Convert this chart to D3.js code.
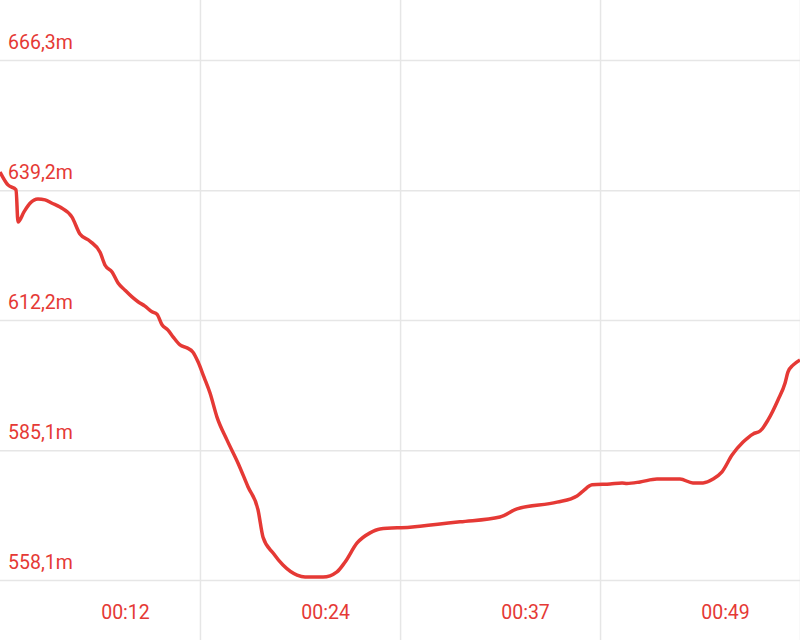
<!DOCTYPE html>
<html>
<head>
<meta charset="utf-8">
<script src="https://cdn.jsdelivr.net/npm/d3@7"></script>
<style>
  html, body { margin: 0; padding: 0; background: #fff; }
  svg { display: block; }
</style>
</head>
<body>
<div id="chart"></div>
<script>
// elapsed time (minutes) and elevation (m)
var minutes = [0.00, 0.49, 0.99, 1.11, 1.48, 1.85, 2.34, 2.78, 3.21, 3.70, 4.44, 4.93, 5.55, 6.17,
  6.48, 6.91, 7.28, 7.71, 8.14, 8.51, 8.94, 9.37, 9.68, 9.99, 10.36, 10.67, 11.10, 11.53, 11.90,
  12.21, 12.58, 12.95, 13.38, 14.00, 14.68, 15.29, 15.91, 16.22, 16.84, 17.45, 18.32, 18.81, 19.92,
  20.78, 21.27, 22.02, 22.82, 23.43, 25.28, 25.90, 28.37, 30.83, 31.88, 34.35, 35.58, 35.95, 36.51,
  37.62, 38.36, 38.66, 39.47, 40.51, 41.93, 42.73, 43.35, 43.97, 44.52, 45.14, 45.82, 46.44, 46.87,
  47.36, 47.98, 48.41, 48.59, 48.90, 49.33];
var elevation = [643.0, 640.3, 639.3, 632.6, 634.7, 636.5, 637.4, 637.2, 636.5, 635.7, 633.6, 630.1, 628.6, 626.3,
  623.6, 622.2, 619.9, 618.4, 617.0, 616.0, 615.1, 613.9, 613.4, 611.2, 610.1, 608.7, 607.0, 606.4, 605.5,
  603.5, 600.3, 597.0, 592.0, 587.2, 582.4, 577.5, 572.7, 567.0, 563.7, 561.2, 559.1, 558.7, 558.7,
  559.8, 561.8, 565.8, 567.9, 568.7, 569.1, 569.3, 570.2, 571.2, 572.9, 574.3, 575.6, 576.6, 577.9,
  578.1, 578.3, 578.2, 578.5, 579.1, 579.1, 578.3, 578.3, 579.1, 580.6, 584.1, 586.8, 588.5, 589.1,
  591.4, 595.6, 599.1, 601.4, 602.8, 603.9];

var yTicks = [558.1, 585.1, 612.2, 639.2, 666.3];
var yTickLabels = ["558,1m", "585,1m", "612,2m", "639,2m", "666,3m"];
var xTicks = [12.33, 24.67, 37.0, 49.33];
var xTickLabels = ["00:12", "00:24", "00:37", "00:49"];

var width = 800, height = 640;
var red = "#e53935";
var gridColor = "#e6e6e6";

var svg = d3.select("#chart").append("svg")
  .attr("width", width)
  .attr("height", height);

var x = d3.scaleLinear().domain([0, 49.33]).range([0, width]);
var y = d3.scaleLinear().domain([558.1, 666.3]).range([580, 60]);

// horizontal grid + labels
var yAxis = svg.append("g")
  .call(d3.axisRight(y).tickValues(yTicks).tickSize(width)
    .tickFormat(function(d, i) { return yTickLabels[i]; }));
yAxis.select(".domain").remove();
yAxis.selectAll(".tick line")
  .attr("stroke", gridColor)
  .attr("stroke-width", 1.5);
yAxis.selectAll(".tick text")
  .attr("x", 8)
  .attr("dy", -11.5)
  .attr("text-anchor", "start")
  .style("font-family", "Roboto, sans-serif")
  .style("font-size", "19.5px")
  .style("fill", red);

// vertical grid + labels
var xAxis = svg.append("g")
  .call(d3.axisBottom(x).tickValues(xTicks).tickSize(height)
    .tickFormat(function(d, i) { return xTickLabels[i]; }));
xAxis.select(".domain").remove();
xAxis.selectAll(".tick line")
  .attr("stroke", gridColor)
  .attr("stroke-width", 1.5);
xAxis.selectAll(".tick text")
  .attr("x", -75)
  .attr("y", 619)
  .attr("dy", null)
  .attr("text-anchor", "middle")
  .style("font-family", "Roboto, sans-serif")
  .style("font-size", "19.5px")
  .style("fill", red);

var points = minutes.map(function(m, i) { return [m, elevation[i]]; });

var line = d3.line()
  .x(function(d) { return x(d[0]); })
  .y(function(d) { return y(d[1]); })
  .curve(d3.curveMonotoneX);

svg.append("path")
  .datum(points)
  .attr("d", line)
  .attr("fill", "none")
  .attr("stroke", red)
  .attr("stroke-width", 3.5)
  .attr("stroke-linejoin", "round");
</script>
</body>
</html>
